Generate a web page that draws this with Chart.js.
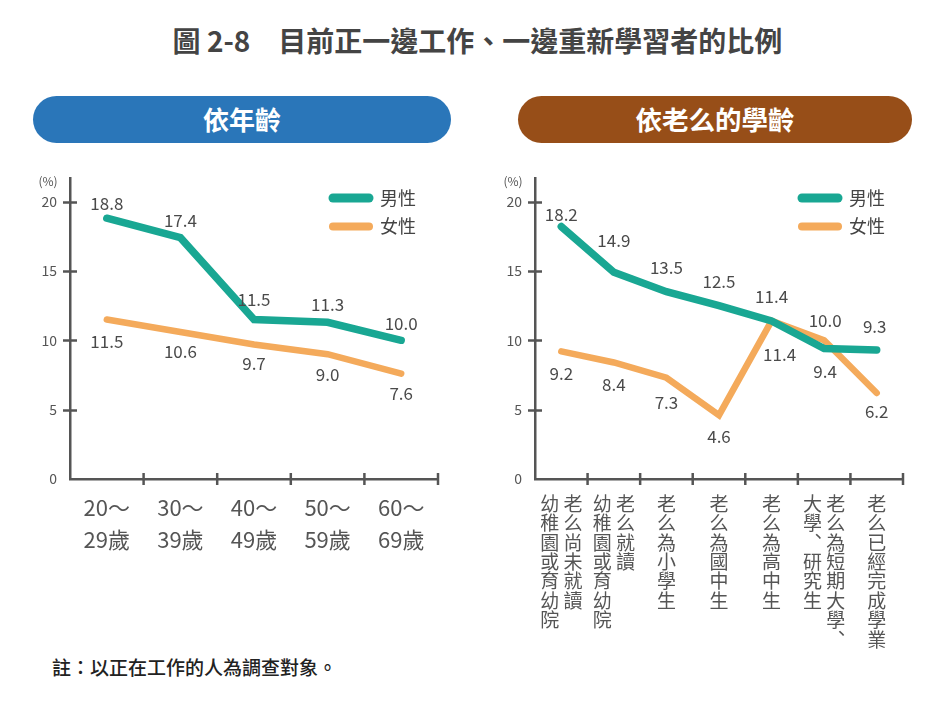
<!DOCTYPE html>
<html><head><meta charset="utf-8">
<script src="https://cdn.jsdelivr.net/npm/chart.js@4/dist/chart.umd.min.js"></script>
<style>
html,body{margin:0;padding:0;background:#fff;}
body{width:940px;height:715px;position:relative;overflow:hidden;font-family:"Noto Sans CJK TC","Noto Sans",sans-serif;}
#title{position:absolute;left:0;width:955px;top:20px;text-align:center;font-size:28px;font-weight:bold;color:#444;line-height:40px;white-space:pre;}
.pill{position:absolute;top:96px;height:47px;border-radius:24px;color:#fff;font-weight:bold;text-align:center;line-height:46px;}
#p1{left:33px;width:418px;background:#2a76b9;font-size:26px;}
#p2{left:518px;width:394px;background:#974e18;font-size:26.5px;}
#note{position:absolute;left:52px;top:653px;font-size:19px;line-height:28px;color:#222;font-weight:500;}
canvas{position:absolute;}
#c1{left:0;top:160px;}
#c2{left:480px;top:160px;}
</style></head>
<body>
<div id="title">圖 2-8　目前正一邊工作、一邊重新學習者的比例</div>
<div class="pill" id="p1">依年齡</div>
<div class="pill" id="p2">依老么的學齡</div>
<canvas id="c1" width="470" height="490"></canvas>
<canvas id="c2" width="460" height="490"></canvas>
<div id="note">註：以正在工作的人為調查對象。</div>
<script>
// ---- data ----
const seriesNames = ["男性", "女性"];
const ageLabels = [["20～","29歲"],["30～","39歲"],["40～","49歲"],["50～","59歲"],["60～","69歲"]];
const ageMale = [18.8, 17.4, 11.5, 11.3, 10.0];
const ageFemale = [11.5, 10.6, 9.7, 9.0, 7.6];
// vertical labels, columns listed right-to-left
const eduColumns = [
  ["老么尚未就讀", "幼稚園或育幼院"],
  ["老么就讀", "幼稚園或育幼院"],
  ["老么為小學生"],
  ["老么為國中生"],
  ["老么為高中生"],
  ["老么為短期大學︑", "大學︑研究生"],
  ["老么已經完成學業"]
];
const eduMale = [18.2, 14.9, 13.5, 12.5, 11.4, 9.4, 9.3];
const eduFemale = [9.2, 8.4, 7.3, 4.6, 11.4, 10.0, 6.2];
const yTickValues = [0, 5, 10, 15, 20];
const percentUnit = "(%)";

// ---- styles ----
const TEAL = "#19a793";
const ORANGE = "#f4aa5b";
const AXIS = "#555";
const FONT = '"Noto Sans CJK TC", "Noto Sans", sans-serif';
Chart.defaults.font.family = FONT;

function verticalLabel(cols) {
  const arr = cols.map(s => Array.from(s)).reverse(); // left to right
  const n = Math.max(...arr.map(a => a.length));
  const lines = [];
  for (let i = 0; i < n; i++) {
    lines.push(arr.map(a => a[i] || "　").join(" "));
  }
  return lines;
}
const eduLabels = eduColumns.map(verticalLabel);

const deco = {
  id: 'deco',
  afterDraw(chart) {
    const o = chart.options.plugins.deco;
    const ctx = chart.ctx, x = chart.scales.x, y = chart.scales.y, a = chart.chartArea;
    ctx.save();
    ctx.strokeStyle = AXIS; ctx.lineWidth = 2.5; ctx.lineCap = 'butt';
    yTickValues.forEach(v => {
      if (v === 0) return;
      const p = Math.round(y.getPixelForValue(v)) + 0.5;
      ctx.beginPath(); ctx.moveTo(a.left - 7, p); ctx.lineTo(a.left + 7, p); ctx.stroke();
    });
    for (let i = 1; i <= x.ticks.length; i++) {
      const p = x.getPixelForValue(i - 0.5);
      ctx.beginPath(); ctx.moveTo(p, a.bottom - 6); ctx.lineTo(p, a.bottom + 6); ctx.stroke();
    }
    ctx.fillStyle = AXIS; ctx.font = '12px ' + FONT; ctx.textAlign = 'center'; ctx.textBaseline = 'middle';
    ctx.fillText(percentUnit, a.left - 22, a.top + 3);
    // data labels
    ctx.font = '17px ' + FONT; ctx.fillStyle = '#4a4a4a';
    chart.data.datasets.forEach((ds, di) => {
      const meta = chart.getDatasetMeta(di);
      meta.data.forEach((pt, i) => {
        const dy = ds.labelDy[i], dx = (ds.labelDx || [])[i] || 0;
        ctx.fillText(ds.data[i].toFixed(1), pt.x + dx, pt.y + dy);
      });
    });
    // legend
    ctx.lineCap = 'round';
    chart.data.datasets.forEach((ds, di) => {
      const ly = a.top + 20 + 28.5 * di;
      ctx.strokeStyle = ds.borderColor; ctx.lineWidth = di === 0 ? 9 : 8;
      ctx.beginPath(); ctx.moveTo(a.right - o.lx, ly); ctx.lineTo(a.right - o.lx + 36, ly); ctx.stroke();
      ctx.fillStyle = '#444'; ctx.font = '18px ' + FONT; ctx.textAlign = 'left';
      ctx.fillText(ds.label, a.right - o.lx + 47, ly);
    });
    ctx.restore();
  }
};

function makeChart(id, labels, male, female, cfg) {
  return new Chart(document.getElementById(id), {
    type: 'line',
    data: {
      labels: labels,
      datasets: [
        { label: seriesNames[0], data: male, borderColor: TEAL, backgroundColor: TEAL, borderWidth: 7.5,
          pointRadius: 0, borderCapStyle: 'round', borderJoinStyle: 'miter', tension: 0, clip: false,
          labelDy: cfg.maleDy, labelDx: cfg.maleDx },
        { label: seriesNames[1], data: female, borderColor: ORANGE, backgroundColor: ORANGE, borderWidth: 6.5,
          pointRadius: 0, borderCapStyle: 'round', borderJoinStyle: 'miter', tension: 0, clip: false,
          labelDy: cfg.femaleDy, labelDx: cfg.femaleDx }
      ]
    },
    options: {
      responsive: false, animation: false,
      layout: { padding: { top: 18, right: cfg.padRight, left: 0, bottom: 0 } },
      plugins: { legend: { display: false }, tooltip: { enabled: false }, deco: { lx: cfg.lx } },
      scales: {
        y: {
          min: 0, max: 21.7,
          afterBuildTicks: s => { s.ticks = yTickValues.map(v => ({ value: v })); },
          afterFit: s => { s.width = cfg.yWidth; s.paddingTop = 0; s.paddingBottom = 0; },
          grid: { display: true, drawOnChartArea: false, drawTicks: false },
          border: { color: AXIS, width: 2.5 },
          ticks: { color: AXIS, font: { size: 14 }, padding: 13 }
        },
        x: {
          offset: true,
          afterFit: s => { s.height = 171; },
          grid: { display: true, drawOnChartArea: false, drawTicks: false, offset: true },
          border: { color: AXIS, width: 2.5 },
          ticks: { color: AXIS, font: { size: cfg.xFont, lineHeight: cfg.xLine }, padding: cfg.xPad,
                   maxRotation: 0, minRotation: 0, autoSkip: false }
        }
      }
    },
    plugins: [deco]
  });
}

makeChart('c1', ageLabels, ageMale, ageFemale, {
  padRight: 32, yWidth: 70, xFont: 22, xLine: 1.45, xPad: 13, lx: 105,
  maleDy: [-15, -17, -20, -17.5, -17], femaleDy: [22, 19.5, 18.6, 20.7, 20]
});
makeChart('c2', eduLabels, eduMale, eduFemale, {
  padRight: 37, yWidth: 55, xFont: 19, xLine: 1.02, xPad: 15, lx: 101,
  maleDy: [-12, -32, -24, -24, -24, 23, -23], maleDx: [0, 0, 0, 0, 0, 1, -2],
  femaleDy: [22, 22, 25, 21, 34, -19.5, 18.6], femaleDx: [0, 0, 0, 0, 8, 1, 0]
});
</script>
</body></html>
